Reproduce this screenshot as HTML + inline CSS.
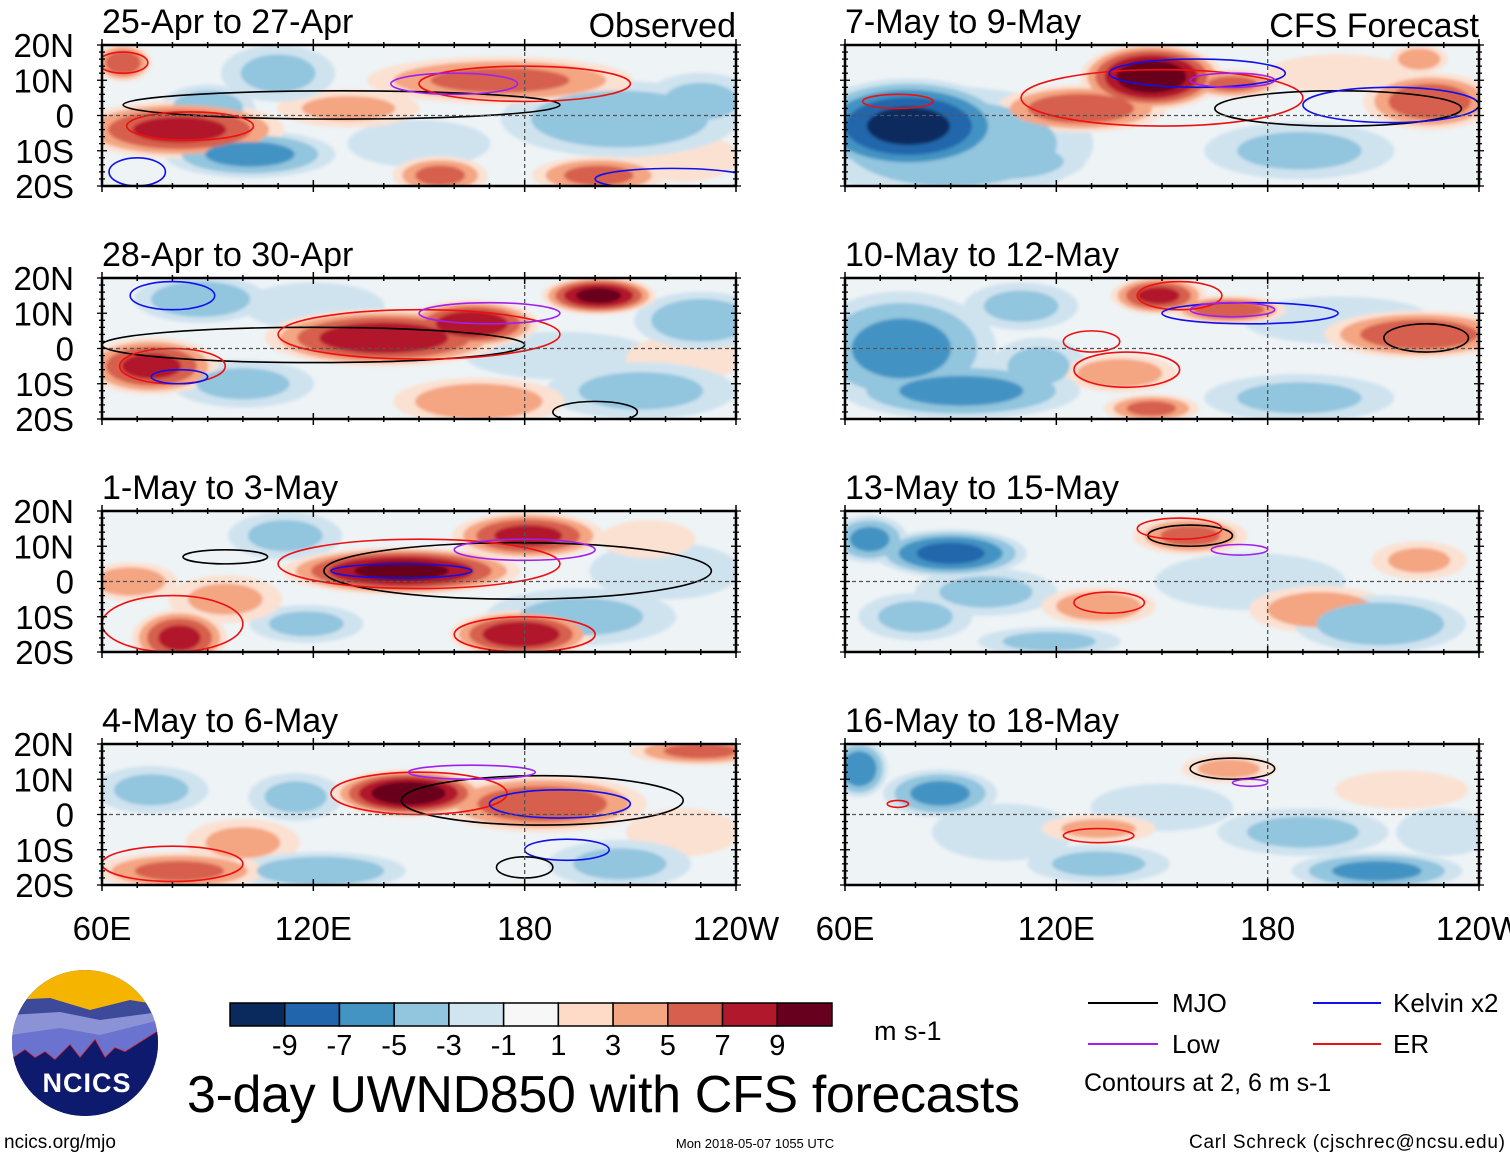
<!DOCTYPE html>
<html><head><meta charset="utf-8"><style>
body{margin:0;background:#fff;}
svg{display:block;font-family:"Liberation Sans",sans-serif;}
</style></head><body>
<svg id="chart" width="1510" height="1158" viewBox="0 0 1510 1158" xmlns="http://www.w3.org/2000/svg">
<defs><filter id="soft"><feGaussianBlur stdDeviation="1.5"/></filter></defs>
<g id="panels"></g>
<g id="colorbar"></g>
<g>
  <clipPath id="logoclip"><circle cx="85" cy="1043" r="73"/></clipPath>
  <g clip-path="url(#logoclip)">
    <rect x="10" y="968" width="150" height="150" fill="#0d1a6e"/>
    <rect x="10" y="968" width="150" height="45" fill="#f5b400"/>
    <path d="M10 1000 L50 998 L90 1010 L130 1000 L160 1005 L160 1060 L10 1060Z" fill="#3d4a9a"/>
    <path d="M10 1015 L60 1012 L100 1020 L160 1012 L160 1060 L10 1060Z" fill="#8b92d6"/>
    <path d="M10 1035 L60 1028 L100 1035 L160 1020 L160 1070 L10 1070Z" fill="#6a73cf"/>
    <path d="M10 1060 L25 1050 L35 1058 L45 1052 L55 1060 L70 1045 L80 1058 L95 1040 L105 1058 L115 1048 L125 1052 L160 1030" fill="none" stroke="#e02020" stroke-width="1.5"/>
    <path d="M10 1060 L25 1050 L35 1058 L45 1052 L55 1060 L70 1045 L80 1058 L95 1040 L105 1058 L115 1048 L125 1052 L160 1030 L160 1120 L10 1120Z" fill="#0d1a6e"/>
  </g>
  <text x="87" y="1092" font-size="27" font-weight="bold" fill="#fff" text-anchor="middle" letter-spacing="1">NCICS</text>
</g>
<text x="4" y="1148" font-size="19">ncics.org/mjo</text>
<text x="187" y="1112" font-size="52" textLength="833">3-day UWND850 with CFS forecasts</text>
<text x="874" y="1040" font-size="27">m s-1</text>
<text x="755" y="1148" font-size="13" text-anchor="middle">Mon 2018-05-07 1055 UTC</text>
<text x="1505" y="1148" font-size="19" text-anchor="end" textLength="316">Carl Schreck (cjschrec@ncsu.edu)</text>
<g>
  <line x1="1088" y1="1003" x2="1158" y2="1003" stroke="#000" stroke-width="2"/><text x="1172" y="1012" font-size="26">MJO</text>
  <line x1="1313" y1="1003" x2="1381" y2="1003" stroke="#1010ee" stroke-width="2"/><text x="1393" y="1012" font-size="26">Kelvin x2</text>
  <line x1="1088" y1="1044" x2="1158" y2="1044" stroke="#a020f0" stroke-width="2"/><text x="1172" y="1053" font-size="26">Low</text>
  <line x1="1313" y1="1044" x2="1381" y2="1044" stroke="#ee1010" stroke-width="2"/><text x="1393" y="1053" font-size="26">ER</text>
  <text x="1084" y="1091" font-size="25">Contours at 2, 6 m s-1</text>
</g>
</svg>
<script>
// ---- data ----
const panelTitles = ["25-Apr to 27-Apr","28-Apr to 30-Apr","1-May to 3-May","4-May to 6-May","7-May to 9-May","10-May to 12-May","13-May to 15-May","16-May to 18-May"];
const latTicks = ["20N","10N","0","10S","20S"];
const lonTicks = ["60E","120E","180","120W"];
const levelColorsPos = ["#fbe1d2","#f4a582","#d6604d","#b2182b","#67001f"];
const levelColorsNeg = ["#cfe3ef","#92c5de","#4393c3","#2166ac","#0a2a5e"];
const cbarLabels = ["-9","-7","-5","-3","-1","1","3","5","7","9"];
const cbarColors = ["#0a2a5e","#2166ac","#4393c3","#92c5de","#d1e5f0","#f7f7f7","#fddbc7","#f4a582","#d6604d","#b2182b","#67001f"];
// anomaly blobs per panel: [lon, lat, lonRadius, latRadius, value]
const blobs0 = [[82,-4,22,6,7],[66,15,6,4,6],[173,10,28,5,5],[130,2,15,4,3],[156,-17,10,4,5],[201,-17,14,4,5],[207,-1,25,8,-4],[102,-11,18,5,-5],[230,4,12,6,-3],[110,12,12,6,-3],[90,2,10,5,-4],[150,-8,15,5,-2],[225,-12,12,5,2]];
const blobs1 = [[74,-5,14,6,7],[140,3,25,6,8],[165,7,14,5,8],[201,15,12,4,9],[167,-15,18,5,4],[88,14,14,5,-4],[230,8,14,6,-4],[213,-12,20,6,-3],[100,-10,15,5,-3],[190,-2,20,5,-2],[120,12,15,5,-2],[225,-3,12,5,2]];
const blobs2 = [[145,3,25,5,9],[181,13,16,5,7],[82,-16,10,6,7],[179,-15,15,5,8],[68,0,10,4,4],[112,13,12,5,-3],[118,-12,12,4,-3],[196,-10,20,6,-3],[220,3,16,6,-2],[95,-5,12,5,3],[215,12,10,4,2]];
const blobs3 = [[147,6,16,5,10],[185,3,22,6,6],[82,-16,18,4,5],[230,18,15,3,5],[122,-16,18,4,-4],[207,-14,15,5,-3],[74,7,12,5,-3],[115,5,10,5,-3],[100,-8,12,5,3],[225,-5,12,5,2]];
const blobs4 = [[78,-3,22,10,-9],[90,-8,30,12,-4],[147,11,15,7,10],[127,2,18,5,6],[226,4,14,6,6],[223,16,6,3,4],[189,-10,20,6,-3],[104,-13,18,5,-4],[170,9,10,3,5],[200,12,15,4,2]];
const blobs5 = [[76,0,20,12,-5],[93,-12,25,6,-5],[149,15,10,4,7],[169,11,12,3,6],[223,4,20,5,6],[147,-17,10,3,5],[138,-7,12,4,4],[189,-14,20,5,-3],[115,-5,10,6,-3],[200,8,20,5,-2],[110,12,12,5,-3]];
const blobs6 = [[90,8,16,5,-7],[67,12,8,5,-5],[158,13,12,4,5],[132,-7,12,4,4],[195,-8,15,5,4],[223,6,10,4,3],[212,-12,18,6,-4],[118,-17,15,3,-3],[100,-3,15,5,-3],[175,0,20,6,-2],[80,-10,12,5,-3]];
const blobs7 = [[64,13,6,6,-6],[87,6,12,5,-5],[211,-16,18,4,-5],[132,-4,12,3,3],[169,13,10,3,3],[218,7,14,4,2],[132,-14,15,4,-3],[150,2,15,5,-2],[190,-5,18,5,-3],[105,-5,15,6,-2],[230,-5,10,5,-2]];
const panelBlobs = [blobs0,blobs1,blobs2,blobs3,blobs4,blobs5,blobs6,blobs7];
// contours per panel: [lon, lat, lonRadius, latRadius, kind]
const cont0 = [[128,3,62,4,"mjo"],[85,-3,18,4,"er"],[66,15,7,3,"er"],[180,9,30,5,"er"],[160,9,18,3,"low"],[222,-18,22,3,"kel"],[70,-16,8,4,"kel"]];
const cont1 = [[120,1,60,5,"mjo"],[80,-5,15,5,"er"],[150,4,40,7,"er"],[170,10,20,3,"low"],[82,-8,8,2,"kel"],[80,15,12,4,"kel"],[200,-18,12,3,"mjo"]];
const cont2 = [[178,3,55,8,"mjo"],[95,7,12,2,"mjo"],[150,5,40,7,"er"],[80,-12,20,8,"er"],[145,3,20,2,"kel"],[180,-15,20,5,"er"],[180,9,20,3,"low"]];
const cont3 = [[185,4,40,7,"mjo"],[150,6,25,6,"er"],[190,3,20,4,"kel"],[192,-10,12,3,"kel"],[180,-15,8,3,"mjo"],[80,-14,20,5,"er"],[165,12,18,2,"low"]];
const cont4 = [[150,5,40,8,"er"],[160,12,25,4,"kel"],[170,10,12,2,"low"],[200,2,35,5,"mjo"],[215,3,25,5,"kel"],[75,4,10,2,"er"]];
const cont5 = [[155,15,12,4,"er"],[175,10,25,3,"kel"],[170,11,12,2,"low"],[225,3,12,4,"mjo"],[140,-6,15,5,"er"],[130,2,8,3,"er"]];
const cont6 = [[158,13,12,3,"mjo"],[155,15,12,3,"er"],[172,9,8,1.5,"low"],[135,-6,10,3,"er"]];
const cont7 = [[170,13,12,3,"mjo"],[175,9,5,1,"low"],[132,-6,10,2,"er"],[75,3,3,1,"er"]];
const panelContours = [cont0,cont1,cont2,cont3,cont4,cont5,cont6,cont7];
const kindColor = {mjo:"#000",er:"#ee1010",kel:"#1010ee",low:"#a020f0"};

// ---- layout ----
const NS="http://www.w3.org/2000/svg";
const PW=634, PH=141, colX=[102,845], rowY=[45,278,511,744];
const lonMin=60, lonMax=240, blobScale=1.35;
function mk(tag,attrs,parent){const e=document.createElementNS(NS,tag);for(const k in attrs)e.setAttribute(k,attrs[k]);parent.appendChild(e);return e;}
const root=document.getElementById('panels');
panelBlobs.forEach((bl,i)=>{
  const x0=colX[Math.floor(i/4)], y0=rowY[i%4];
  const xs=lon=>x0+(lon-lonMin)/(lonMax-lonMin)*PW;
  const ys=lat=>y0+(20-lat)/40*PH;
  const rxs=d=>d/(lonMax-lonMin)*PW, rys=d=>d/40*PH;
  const g=mk('g',{},root);
  
  
  const cp=mk('clipPath',{id:'cp'+i},g);
  mk('rect',{x:x0,y:y0,width:PW,height:PH},cp);
  const inner=mk('g',{'clip-path':'url(#cp'+i+')'},g);
  mk('rect',{x:x0,y:y0,width:PW,height:PH,fill:'#eef3f6'},inner);
  const fills=mk('g',{filter:'url(#soft)'},inner);
  const sorted=[...bl].sort((a,b)=>Math.abs(a[4])-Math.abs(b[4]));
  const levels=[1,3,5,7,9];
  levels.forEach((L,li)=>{
    sorted.forEach(b=>{
      const v=Math.abs(b[4]); if(v<L) return;
      const s=Math.sqrt(1-(L-1)/(v+0.5))*blobScale;
      const e=mk('ellipse',{cx:xs(b[0]),cy:ys(b[1]),rx:rxs(b[2])*s,ry:rys(b[3])*s,fill:b[4]>0?levelColorsPos[li]:levelColorsNeg[li]},fills);
      
      
    });
  });
  panelContours[i].forEach(c=>{
    const e=mk('ellipse',{cx:xs(c[0]),cy:ys(c[1]),rx:rxs(c[2]),ry:rys(c[3]),fill:'none',stroke:kindColor[c[4]],'stroke-width':1.6},inner);
    
    
  });
  mk('line',{x1:x0,x2:x0+PW,y1:ys(0),y2:ys(0),stroke:'#555','stroke-width':1.3,'stroke-dasharray':'4,3'},inner);
  mk('line',{x1:xs(180),x2:xs(180),y1:y0,y2:y0+PH,stroke:'#555','stroke-width':1.3,'stroke-dasharray':'4,3'},inner);
  mk('rect',{x:x0,y:y0,width:PW,height:PH,fill:'none',stroke:'#000','stroke-width':2.5},g);
  for(let lon=lonMin;lon<=lonMax;lon+=10){
    const maj=lon%60===0, L=maj?6:3;
    mk('line',{x1:xs(lon),x2:xs(lon),y1:y0-L,y2:y0+L,stroke:'#000','stroke-width':1.5},g);
    mk('line',{x1:xs(lon),x2:xs(lon),y1:y0+PH-L,y2:y0+PH+L,stroke:'#000','stroke-width':1.5},g);
  }
  for(let lat=-20;lat<=20;lat+=2){
    const L=lat%10===0?5:3;
    mk('line',{x1:x0-L,x2:x0+L,y1:ys(lat),y2:ys(lat),stroke:'#000','stroke-width':1.3},g);
    mk('line',{x1:x0+PW-L,x2:x0+PW+L,y1:ys(lat),y2:ys(lat),stroke:'#000','stroke-width':1.3},g);
  }
  const t=mk('text',{x:x0,y:y0-12,'font-size':34},g); t.textContent=panelTitles[i];
  
  
  if(i<4){
    latTicks.forEach((lab,k)=>{
      const tt=mk('text',{x:74,y:y0+k*PH/4+12,'font-size':33,'text-anchor':'end'},g); tt.textContent=lab;
      
      
    });
  }
  if(i%4===3){
    lonTicks.forEach((lab,k)=>{
      const tt=mk('text',{x:x0+k*PW/3,y:940,'font-size':33,'text-anchor':'middle'},g); tt.textContent=lab;
      
      
    });
  }
});
const obs=mk('text',{x:736,y:37,'font-size':34,'text-anchor':'end'},root); obs.textContent='Observed';


const cfs=mk('text',{x:1479,y:37,'font-size':34,'text-anchor':'end'},root); cfs.textContent='CFS Forecast';


// colorbar
const cb=document.getElementById('colorbar');
const cbX=230, cbW=602/11;
cbarColors.forEach((c,k)=>{
  const r=mk('rect',{x:cbX+k*cbW,y:1003,width:cbW,height:23,fill:c,stroke:'#000','stroke-width':1.5},cb);
  
  
});
cbarLabels.forEach((l,k)=>{
  const t=mk('text',{x:cbX+(k+1)*cbW,y:1055,'font-size':29,'text-anchor':'middle'},cb); t.textContent=l;
  
  
});
</script>
</body></html>
